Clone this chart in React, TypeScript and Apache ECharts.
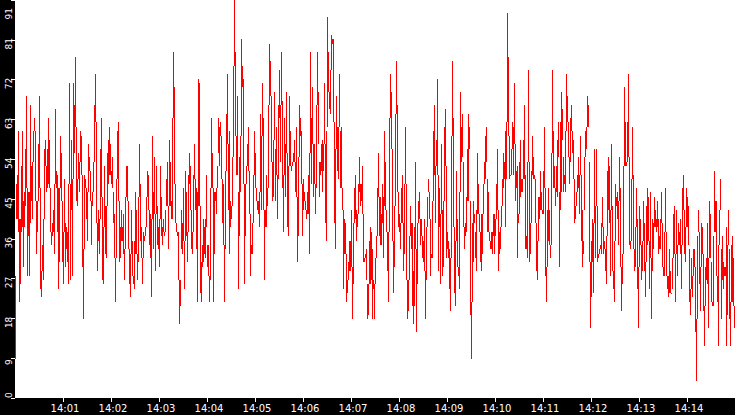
import React, { useEffect, useRef } from "react";
import * as echarts from "echarts";

const minuteTicks = [1, 2, 3, 4, 5, 6, 7, 8, 9, 10, 11, 12, 13, 14];
const secondsPerColumn = 1.25;
const columnsPerBlock = 90;

const high1 = [28,49,51,61,41,41,53,61,45,47,57,69,48,47,47,67,53,54,61,64,61,45,45,58,69,48,29,35,41,57,59,53,57,64,59,48,38,40,43,49,66,52,51,48,48,60,56,45,38,50,40,39,38,49,72,49,59,50,72,67,78,62,50,56,54,61,60,51,34,51,50,48,47,58,55,52,45,47,54,67,74,63,40,43,41,57,64,46,39,53];
const low1 = [9,41,41,38,22,26,38,39,30,39,44,48,28,37,28,40,45,41,54,61,45,33,38,45,48,25,23,29,27,41,53,47,48,49,48,38,35,37,38,33,49,48,38,25,31,48,45,31,26,38,30,34,31,26,49,27,43,28,50,56,62,45,44,50,47,54,51,30,18,34,48,41,36,47,52,45,35,44,47,54,63,40,29,36,33,41,46,27,26,39];
const high2 = [44,44,56,59,62,58,52,55,47,42,32,50,61,63,45,39,43,39,42,34,46,53,53,45,34,33,43,36,28,36,47,43,33,46,58,49,39,32,38,37,39,46,52,51,43,42,41,60,47,55,42,53,44,39,41,53,46,39,41,38,43,50,54,44,59,54,45,64,79,71,49,40,38,38,27,27,43,40,48,36,52,47,38,51,56,53,43,38,51,58];
const low2 = [33,32,44,49,51,51,49,48,40,32,22,32,50,45,31,32,36,36,33,27,34,46,45,34,26,23,33,28,26,25,33,33,27,31,46,36,32,26,32,36,37,39,46,43,35,32,23,41,34,42,29,42,35,34,30,41,37,35,38,37,38,44,44,34,44,44,41,41,64,49,40,38,37,27,17,21,34,33,36,25,36,37,31,38,49,43,34,33,38,50];
const high3 = [50,48,47,73,72,44,31,35,41,39,41,51,35,35,28,48,64,56,48,47,47,48,53,64,62,63,60,50,49,35,52,65,74,58,61,45,44,55,76,91,79,60,69,47,55,60,82,76,73,49,49,53,58,62,52,42,35,40,51,61,56,48,45,45,47,65,60,72,64,43,43,51,48,67,81,77,69,54,59,70,57,62,51,67,75,67,79,68,51,64];
const low3 = [43,34,22,44,44,24,22,30,31,33,32,39,30,28,22,27,48,48,22,33,45,42,48,56,53,60,50,40,35,22,34,52,58,43,33,39,41,44,55,76,60,51,51,25,37,47,60,71,49,26,37,49,53,52,42,28,33,33,40,51,48,45,43,42,39,47,43,60,43,27,39,39,44,48,67,69,54,45,46,59,45,51,41,50,64,54,67,48,38,51];
const high4 = [58,70,56,53,69,61,53,54,56,59,54,62,46,55,67,64,61,49,50,47,45,43,47,51,56,79,64,71,58,58,49,67,79,70,54,54,58,59,58,72,58,61,87,79,70,75,83,82,82,63,57,69,62,62,74,61,62,48,43,41,40,33,27,31,36,36,43,30,40,48,51,43,42,49,55,49,49,53,42,32,33,34,26,26,36,39,38,34,27,26];
const low4 = [46,56,39,37,53,53,52,53,54,54,47,46,31,37,55,60,49,37,43,45,43,41,42,42,33,56,49,58,46,49,42,48,67,58,46,51,52,47,52,58,40,36,62,70,66,65,75,81,63,40,34,57,52,50,62,48,48,43,25,33,33,22,24,27,29,29,30,18,26,40,41,36,39,42,47,44,45,42,31,31,32,27,18,19,26,26,27,18,25,18];
const high5 = [32,37,48,56,46,46,42,49,46,61,54,43,38,38,64,74,70,57,36,44,65,77,67,47,42,40,48,51,40,49,62,49,27,27,37,44,40,40,29,39,54,34,40,45,47,41,41,37,36,41,29,39,46,50,47,41,33,45,61,67,53,59,73,51,48,42,58,43,45,62,66,53,38,36,34,32,60,77,64,39,36,52,41,30,47,70,62,65,54,39];
const low5 = [26,32,37,46,37,35,35,40,32,44,43,38,29,22,38,64,57,36,24,30,44,65,47,39,38,34,40,40,29,33,49,27,18,20,27,37,34,21,17,21,34,15,26,40,41,35,37,32,31,29,18,27,39,47,41,28,32,32,45,51,40,53,51,29,39,26,42,28,30,45,53,32,34,32,25,20,32,60,39,24,21,36,30,28,25,47,54,55,39,34];
const high6 = [40,46,57,65,62,45,22,40,45,42,38,43,56,49,42,38,42,42,49,54,60,62,50,47,38,36,38,38,42,42,41,49,57,43,38,39,44,50,56,54,61,63,88,78,60,51,57,63,62,72,58,52,53,42,54,59,50,50,59,67,51,37,54,75,54,40,52,60,55,51,50,40,36,46,46,52,47,43,52,62,48,30,43,48,43,35,56,75,61,53];
const low6 = [37,38,45,45,57,19,9,22,31,40,32,29,42,42,38,31,29,33,42,49,50,54,38,38,36,34,34,33,37,33,37,41,43,29,33,34,39,44,48,50,39,50,63,60,50,51,51,57,51,58,45,48,32,40,42,46,47,47,50,50,34,34,32,54,31,33,40,51,50,50,40,29,27,36,41,43,43,42,42,48,28,22,30,36,35,32,35,56,48,48];
const high7 = [48,53,59,63,47,63,70,66,55,51,61,74,69,63,55,64,67,61,59,50,44,47,51,55,51,60,51,43,36,55,61,62,69,67,54,31,36,41,40,57,44,57,44,33,34,35,40,46,39,36,34,37,52,55,53,43,58,44,29,36,49,46,47,45,55,48,30,33,53,71,63,54,63,74,55,36,50,62,51,34,39,48,41,30,44,41,35,36,45,40];
const low7 = [44,47,46,55,30,43,47,59,47,49,47,61,63,55,49,54,61,56,50,40,41,44,47,48,42,51,36,30,33,43,55,57,62,62,31,16,23,31,24,40,32,44,31,32,33,34,33,39,33,34,29,26,37,43,40,28,43,29,25,22,36,44,41,35,45,30,20,26,33,53,53,53,54,55,35,34,36,50,34,29,30,39,25,16,30,35,27,29,36,29];
const high8 = [31,44,48,46,36,47,32,41,40,46,43,41,45,41,37,41,47,40,30,38,48,38,28,28,34,29,24,32,42,44,33,43,35,40,38,41,35,48,51,43,39,48,46,44,34,25,32,28,34,34,30,18,37,43,38,30,40,39,33,21,30,32,40,32,45,42,31,22,37,52,45,45,28,35,43,50,34,37,31,30,30,39,35,43,34,22,35,37,32,21];
const low8 = [23,31,35,36,25,32,18,29,34,39,39,38,39,33,34,34,40,30,28,28,38,28,25,23,24,24,24,25,32,33,22,33,28,35,35,33,25,35,43,33,31,39,39,35,22,19,25,23,28,30,15,4,18,38,26,20,30,33,20,12,21,27,26,16,32,32,22,21,21,38,38,28,22,12,35,43,18,27,25,28,28,12,19,35,18,12,22,22,21,16];

const blocks = [
  [high1, low1], [high2, low2], [high3, low3], [high4, low4],
  [high5, low5], [high6, low6], [high7, low7], [high8, low8],
];

const columns: number[][] = [];
blocks.forEach(([hi, lo], b) => {
  hi.forEach((h, i) => {
    if (lo[i] !== undefined) {
      columns.push([(b * columnsPerBlock + i) * secondsPerColumn, h, lo[i]]);
    }
  });
});

const tickSeconds = minuteTicks.map((m) => m * 60);
const FONT = "DejaVu Sans";

export default function App() {
  const ref = useRef<HTMLDivElement>(null);
  useEffect(() => {
    document.body.style.margin = "0";
    const chart = echarts.init(ref.current!, null, { renderer: "svg" });
    chart.setOption({
      animation: false,
      backgroundColor: "#000",
      grid: { left: 15, right: 0, top: 0, bottom: 17, show: true, backgroundColor: "#fff", borderWidth: 0, outerBoundsMode: "none" },
      xAxis: {
        type: "value",
        min: 0,
        max: 900,
        interval: 60,
        splitLine: { show: false },
        axisLine: { show: false },
        axisTick: { show: true, length: 4, lineStyle: { color: "#fff", width: 1 }, customValues: tickSeconds },
        axisLabel: {
          show: true,
          color: "#fff",
          fontFamily: FONT,
          fontSize: 10,
          margin: 5,
          padding: [0, 0, 0, 4],
          customValues: tickSeconds,
          formatter: (v: number) => `14:${String(Math.round(v / 60)).padStart(2, "0")}`,
        },
      },
      yAxis: {
        type: "value",
        min: 0,
        max: 91,
        interval: 9.1,
        splitLine: { show: false },
        axisLine: { show: false },
        axisTick: { show: true, length: 4, lineStyle: { color: "#fff", width: 1 } },
        axisLabel: {
          show: true,
          color: "#fff",
          fontFamily: FONT,
          fontSize: 9,
          rotate: 90,
          margin: 6,
          align: "center",
          verticalAlign: "middle",
          padding: [0, 8, 0, 0],
          alignMinLabel: "left",
          alignMaxLabel: "right",
          formatter: (v: number) => String(Math.floor(v + 1e-6)),
        },
      },
      series: [
        {
          type: "custom",
          silent: true,
          clip: false,
          encode: { x: 0, y: [1, 2] },
          data: columns,
          renderItem: (_: unknown, api: any) => {
            const t = api.value(0);
            const top = api.coord([t, api.value(1)]);
            const bottom = api.coord([t, api.value(2)]);
            const y = Math.round(top[1]);
            return {
              type: "rect",
              shape: { x: Math.floor(top[0]), y, width: 1, height: Math.max(1, Math.round(bottom[1]) - y) },
              style: { fill: "#ff0000" },
            };
          },
        },
      ],
    });
    return () => chart.dispose();
  }, []);
  return <div ref={ref} style={{ width: 735, height: 415 }} />;
}
